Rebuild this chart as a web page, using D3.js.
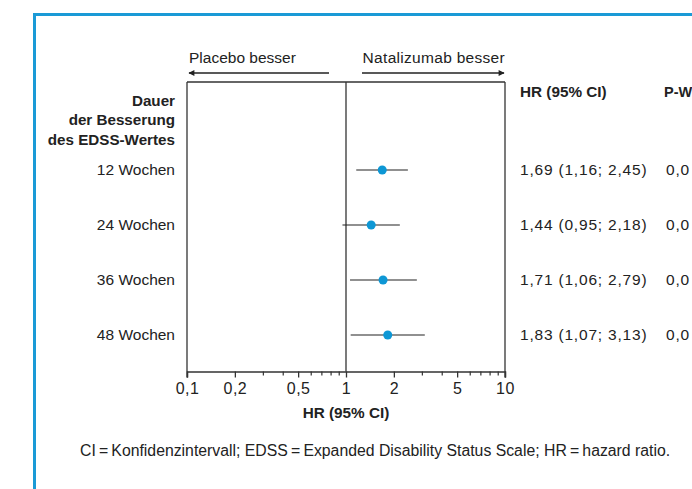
<!DOCTYPE html>
<html>
<head>
<meta charset="utf-8">
<script src="https://cdn.jsdelivr.net/npm/d3@7"></script>
<style>
  html, body { margin: 0; padding: 0; background: #fff; }
  svg { display: block; overflow: hidden; }
  text { font-family: "Liberation Sans", Arial, sans-serif; fill: #222; }
</style>
</head>
<body>
<svg id="chart" width="692" height="489"></svg>
<script>
const categories = ["12 Wochen", "24 Wochen", "36 Wochen", "48 Wochen"];
const hr = [1.69, 1.44, 1.71, 1.83];
const ciLow = [1.16, 0.95, 1.06, 1.07];
const ciHigh = [2.45, 2.18, 2.79, 3.13];
const hrLabels = ["1,69 (1,16; 2,45)", "1,44 (0,95; 2,18)", "1,71 (1,06; 2,79)", "1,83 (1,07; 3,13)"];
const pValues = ["0,0", "0,0", "0,0", "0,0"];
const pHeader = "P-W";
const majorTicks = [0.1, 0.2, 0.5, 1, 2, 5, 10];
const majorTickLabels = ["0,1", "0,2", "0,5", "1", "2", "5", "10"];
const minorTicks = [0.3, 0.4, 0.6, 0.7, 0.8, 0.9, 3, 4, 6, 7, 8, 9];

(function () {
const svg = d3.select("#chart");
const blue = "#1a9ad6";
const dark = "#333";

// frame
svg.append("rect").attr("x", 34.5).attr("y", 14.5).attr("width", 700).attr("height", 500)
  .attr("fill", "none").attr("stroke", blue).attr("stroke-width", 3);

const x = d3.scaleLog().domain([0.1, 10]).range([187, 505]);
const y = d3.scalePoint().domain(categories).range([170, 335]);
const boxTop = 82, axisY = 371.5;

const defs = svg.append("defs");
defs.append("marker").attr("id", "arr").attr("viewBox", "0 0 10 10").attr("refX", 9).attr("refY", 5)
  .attr("markerWidth", 9).attr("markerHeight", 6).attr("markerUnits", "userSpaceOnUse").attr("orient", "auto")
  .append("path").attr("d", "M0,0 L10,5 L0,10 z").attr("fill", "#222");

// box
const g = svg.append("g");
g.append("line").attr("x1", x(0.1)).attr("x2", x(10)).attr("y1", boxTop).attr("y2", boxTop).attr("stroke", dark).attr("stroke-width", 1.3);
g.append("line").attr("x1", x(0.1)).attr("x2", x(0.1)).attr("y1", boxTop).attr("y2", axisY + 6).attr("stroke", dark).attr("stroke-width", 1.3);
g.append("line").attr("x1", x(10)).attr("x2", x(10)).attr("y1", boxTop).attr("y2", axisY + 6).attr("stroke", dark).attr("stroke-width", 1.3);
g.append("line").attr("x1", x(1)).attr("x2", x(1)).attr("y1", boxTop).attr("y2", axisY).attr("stroke", dark).attr("stroke-width", 1.3);

// axis
const axis = d3.axisBottom(x).tickValues(majorTicks).tickFormat((d, i) => majorTickLabels[i]).tickSize(6).tickPadding(5);
const ax = svg.append("g").attr("transform", `translate(0,${axisY})`).call(axis);
ax.select(".domain").attr("stroke", dark).attr("stroke-width", 1.3);
ax.selectAll(".tick line").attr("stroke", dark).attr("stroke-width", 1.3);
ax.selectAll(".tick text").style("font-size", "16px").style("letter-spacing", "0.5px").attr("fill", "#222").style("font-family", '"Liberation Sans", Arial, sans-serif');
const axMinor = d3.axisBottom(x).tickValues(minorTicks).tickFormat("").tickSize(4);
const axm = svg.append("g").attr("transform", `translate(0,${axisY})`).call(axMinor);
axm.select(".domain").remove();
axm.selectAll(".tick line").attr("stroke", dark).attr("stroke-width", 1.2);

svg.append("text").attr("x", x(1)).attr("y", 418).attr("text-anchor", "middle")
  .style("font-size", "15.3px").style("font-weight", "bold").text("HR (95% CI)");

// arrows + direction labels
svg.append("line").attr("x1", 329).attr("x2", 189).attr("y1", 73).attr("y2", 73)
  .attr("stroke", "#222").attr("stroke-width", 1.3).attr("marker-end", "url(#arr)");
svg.append("line").attr("x1", 362).attr("x2", 504).attr("y1", 73).attr("y2", 73)
  .attr("stroke", "#222").attr("stroke-width", 1.3).attr("marker-end", "url(#arr)");
svg.append("text").attr("x", 189).attr("y", 63).style("font-size", "15.5px").text("Placebo besser");
svg.append("text").attr("x", 505).attr("y", 63).attr("text-anchor", "end").style("font-size", "15.5px").style("letter-spacing", "0.3px").text("Natalizumab besser");

// left header
const hdr = ["Dauer", "der Besserung", "des EDSS-Wertes"];
svg.selectAll(".lh").data(hdr).join("text").attr("class", "lh")
  .attr("x", 175).attr("y", (d, i) => 106 + i * 19.3).attr("text-anchor", "end")
  .style("font-size", "15.2px").style("font-weight", "bold").text(d => d);

// right headers
svg.append("text").attr("x", 520).attr("y", 97).style("font-size", "15.3px").style("font-weight", "bold").text("HR (95% CI)");
svg.append("text").attr("x", 664).attr("y", 97).style("font-size", "14.5px").style("font-weight", "bold").text(pHeader);

// rows
svg.selectAll(".rl").data(categories).join("text").attr("class", "rl")
  .attr("x", 175).attr("y", d => y(d) + 5).attr("text-anchor", "end").style("font-size", "15.5px").text(d => d);
svg.selectAll(".ci").data(categories).join("line").attr("class", "ci")
  .attr("x1", (d, i) => x(ciLow[i])).attr("x2", (d, i) => x(ciHigh[i]))
  .attr("y1", d => y(d)).attr("y2", d => y(d)).attr("stroke", "#222").attr("stroke-width", 1.2);
svg.selectAll(".pt").data(categories).join("circle").attr("class", "pt")
  .attr("cx", (d, i) => x(hr[i])).attr("cy", d => y(d)).attr("r", 4.5).attr("fill", "#0d97d5");
svg.selectAll(".hl").data(categories).join("text").attr("class", "hl")
  .attr("x", 520).attr("y", d => y(d) + 5).style("font-size", "15.5px").style("letter-spacing", "0.8px").text((d, i) => hrLabels[i]);
svg.selectAll(".pv").data(categories).join("text").attr("class", "pv")
  .attr("x", 666).attr("y", d => y(d) + 5).style("font-size", "15.5px").style("letter-spacing", "0.8px").text((d, i) => pValues[i]);

// footnote
svg.append("text").attr("x", 80).attr("y", 456).style("font-size", "15.8px")
  .text("CI\u2009=\u2009Konfidenzintervall; EDSS\u2009=\u2009Expanded Disability Status Scale; HR\u2009=\u2009hazard ratio.");
})();
</script>
</body>
</html>
